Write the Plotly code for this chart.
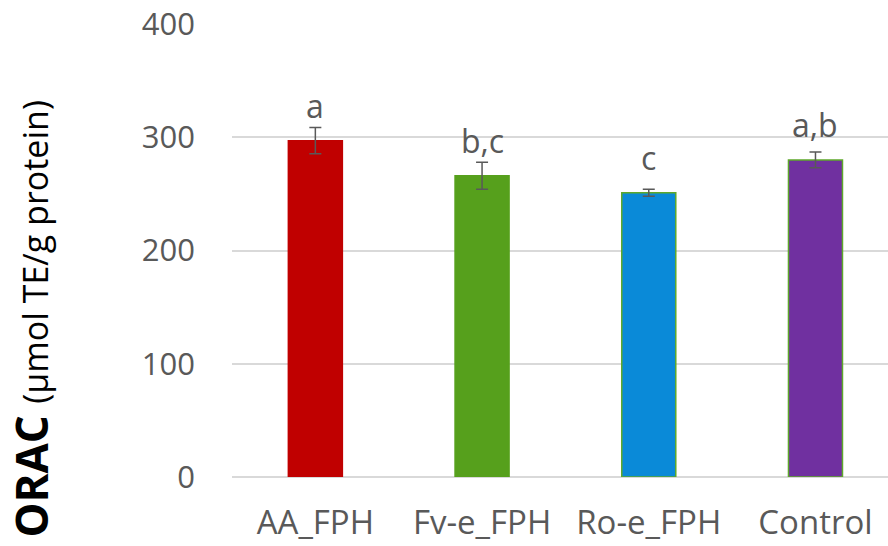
import plotly.graph_objects as go

# ORAC antioxidant capacity per hydrolysate
categories = ["AA_FPH", "Fv-e_FPH", "Ro-e_FPH", "Control"]
orac_values = [297, 266, 251, 280]
orac_errors = [11.5, 12, 3, 7]
group_letters = ["a", "b,c", "c", "a,b"]

bar_colors = ["#C00000", "#56A01C", "#0A8AD8", "#7030A0"]
outline_colors = ["#C00000", "#56A01C", "#5EA82A", "#5EA82A"]

TEXT = "#595959"
FONT = "Open Sans"

fig = go.Figure()
fig.add_trace(go.Bar(
    x=categories,
    y=orac_values,
    width=0.324,
    marker=dict(color=bar_colors, line=dict(color=outline_colors, width=1.5)),
    error_y=dict(type="data", array=orac_errors, color=TEXT, thickness=1.5, width=6),
    showlegend=False,
))

# significance letters placed a fixed distance above each bar top
for cat, v, lab in zip(categories, orac_values, group_letters):
    fig.add_annotation(
        x=cat, y=v, text=lab, showarrow=False,
        yanchor="bottom", yshift=12,
        font=dict(family=FONT, size=32, color=TEXT),
    )

# rotated y-axis title
fig.add_annotation(
    xref="paper", yref="paper",
    x=(31 - 232) / 656, y=(476.7 - 318.5) / 452.4,
    xanchor="center", yanchor="middle",
    textangle=-90, showarrow=False,
    text="<b>ORAC</b> <span style='font-size:34px'>(µmol TE/g protein)</span>",
    font=dict(family=FONT, size=44, color="#000000"),
)

fig.update_layout(
    width=888, height=546,
    margin=dict(l=232, r=0, t=24, b=69),
    paper_bgcolor="white", plot_bgcolor="white",
    font=dict(family=FONT, color=TEXT),
    bargap=0.676,
)
fig.update_xaxes(
    range=[-0.5, 3.435],
    showgrid=False, showline=False, zeroline=False,
    ticks="", tickfont=dict(family=FONT, size=33, color=TEXT),
    ticklabelstandoff=23,
)
fig.update_yaxes(
    range=[0, 400], tickvals=[0, 100, 200, 300, 400],
    showgrid=True, gridcolor="#D9D9D9", gridwidth=1.5,
    zeroline=True, zerolinecolor="#D9D9D9", zerolinewidth=1.5,
    showline=False, ticks="",
    tickfont=dict(family=FONT, size=31, color=TEXT),
    ticklabelstandoff=36,
)

fig.write_html("out.html")
